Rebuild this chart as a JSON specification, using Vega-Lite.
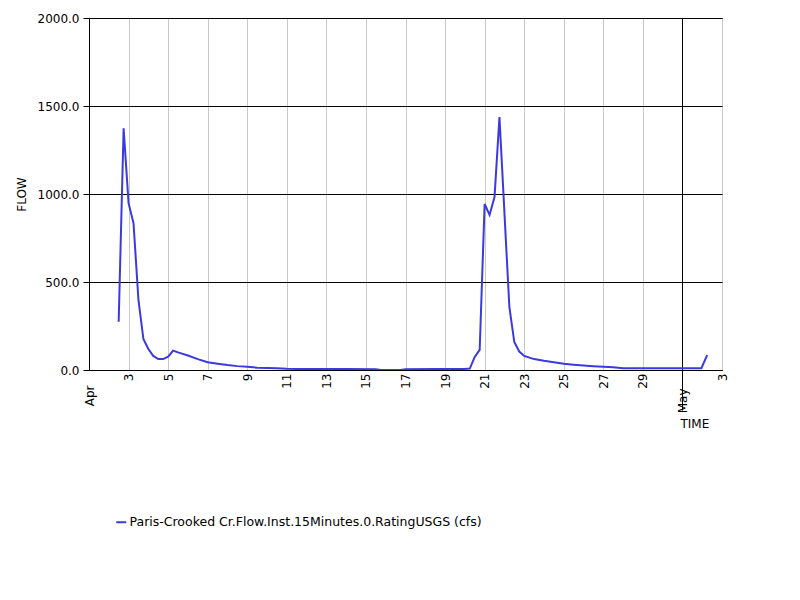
{
  "$schema": "https://vega.github.io/schema/vega-lite/v6.json",
  "width": 633,
  "height": 352,
  "autosize": "none",
  "padding": {"left": 89, "top": 18, "right": 78, "bottom": 230},
  "background": "white",
  "config": {"view": {"stroke": "black", "strokeWidth": 1}, "font": "DejaVu Sans"},
  "data": {"values": [
    {"time": "2024-04-02T12:00:00", "flow": 274},
    {"time": "2024-04-02T18:00:00", "flow": 1373},
    {"time": "2024-04-03T00:00:00", "flow": 948},
    {"time": "2024-04-03T06:00:00", "flow": 835},
    {"time": "2024-04-03T12:00:00", "flow": 398},
    {"time": "2024-04-03T18:00:00", "flow": 176},
    {"time": "2024-04-04T00:00:00", "flow": 119},
    {"time": "2024-04-04T06:00:00", "flow": 80},
    {"time": "2024-04-04T12:00:00", "flow": 62},
    {"time": "2024-04-04T18:00:00", "flow": 62},
    {"time": "2024-04-05T00:00:00", "flow": 76},
    {"time": "2024-04-05T06:00:00", "flow": 110},
    {"time": "2024-04-05T12:00:00", "flow": 100},
    {"time": "2024-04-06T00:00:00", "flow": 82},
    {"time": "2024-04-06T12:00:00", "flow": 62},
    {"time": "2024-04-07T00:00:00", "flow": 44},
    {"time": "2024-04-07T12:00:00", "flow": 36},
    {"time": "2024-04-08T00:00:00", "flow": 28},
    {"time": "2024-04-08T12:00:00", "flow": 22},
    {"time": "2024-04-09T00:00:00", "flow": 18},
    {"time": "2024-04-09T12:00:00", "flow": 13},
    {"time": "2024-04-10T00:00:00", "flow": 11},
    {"time": "2024-04-10T12:00:00", "flow": 10},
    {"time": "2024-04-11T00:00:00", "flow": 7},
    {"time": "2024-04-11T12:00:00", "flow": 6},
    {"time": "2024-04-12T12:00:00", "flow": 5},
    {"time": "2024-04-14T00:00:00", "flow": 5},
    {"time": "2024-04-15T12:00:00", "flow": 4},
    {"time": "2024-04-15T18:00:00", "flow": 0},
    {"time": "2024-04-16T18:00:00", "flow": 0},
    {"time": "2024-04-17T00:00:00", "flow": 4},
    {"time": "2024-04-18T12:00:00", "flow": 5},
    {"time": "2024-04-20T00:00:00", "flow": 6},
    {"time": "2024-04-20T06:00:00", "flow": 8},
    {"time": "2024-04-20T12:00:00", "flow": 74},
    {"time": "2024-04-20T18:00:00", "flow": 114},
    {"time": "2024-04-21T00:00:00", "flow": 943},
    {"time": "2024-04-21T06:00:00", "flow": 881},
    {"time": "2024-04-21T12:00:00", "flow": 983},
    {"time": "2024-04-21T18:00:00", "flow": 1437},
    {"time": "2024-04-22T06:00:00", "flow": 358},
    {"time": "2024-04-22T12:00:00", "flow": 159},
    {"time": "2024-04-22T18:00:00", "flow": 105},
    {"time": "2024-04-23T00:00:00", "flow": 80},
    {"time": "2024-04-23T12:00:00", "flow": 62},
    {"time": "2024-04-24T00:00:00", "flow": 52},
    {"time": "2024-04-24T12:00:00", "flow": 44},
    {"time": "2024-04-25T00:00:00", "flow": 36},
    {"time": "2024-04-25T12:00:00", "flow": 30},
    {"time": "2024-04-26T00:00:00", "flow": 25},
    {"time": "2024-04-26T12:00:00", "flow": 21},
    {"time": "2024-04-27T00:00:00", "flow": 18},
    {"time": "2024-04-27T12:00:00", "flow": 15},
    {"time": "2024-04-28T00:00:00", "flow": 10},
    {"time": "2024-04-30T00:00:00", "flow": 10},
    {"time": "2024-05-01T00:00:00", "flow": 10},
    {"time": "2024-05-01T23:00:00", "flow": 10},
    {"time": "2024-05-02T06:00:00", "flow": 85}
  ]},
  "mark": {"type": "line", "strokeWidth": 2, "interpolate": "linear", "clip": true},
  "encoding": {
    "x": {
      "field": "time",
      "type": "temporal",
      "scale": {"domain": [{"year": 2024, "month": "Apr", "date": 1}, {"year": 2024, "month": "May", "date": 3}]},
      "axis": {
        "title": "TIME",
        "titleFontSize": 12,
        "titleFontWeight": "normal",
        "titleColor": "black",
        "titleX": 591,
        "titleY": 53,
        "titleAlign": "left",
        "titleBaseline": "middle",
        "values": [
          {"year": 2024, "month": "Apr", "date": 1},
          {"year": 2024, "month": "Apr", "date": 3},
          {"year": 2024, "month": "Apr", "date": 5},
          {"year": 2024, "month": "Apr", "date": 7},
          {"year": 2024, "month": "Apr", "date": 9},
          {"year": 2024, "month": "Apr", "date": 11},
          {"year": 2024, "month": "Apr", "date": 13},
          {"year": 2024, "month": "Apr", "date": 15},
          {"year": 2024, "month": "Apr", "date": 17},
          {"year": 2024, "month": "Apr", "date": 19},
          {"year": 2024, "month": "Apr", "date": 21},
          {"year": 2024, "month": "Apr", "date": 23},
          {"year": 2024, "month": "Apr", "date": 25},
          {"year": 2024, "month": "Apr", "date": 27},
          {"year": 2024, "month": "Apr", "date": 29},
          {"year": 2024, "month": "May", "date": 1},
          {"year": 2024, "month": "May", "date": 3}
        ],
        "labelExpr": "date(datum.value) == 1 ? timeFormat(datum.value, '%b') : timeFormat(datum.value, '%-d')",
        "labelAngle": 270,
        "labelAlign": "right",
        "labelBaseline": "middle",
        "labelFontSize": 12,
        "labelColor": "black",
        "labelOverlap": false,
        "labelFlush": false,
        "labelBound": false,
        "labelPadding": {"condition": [
          {"test": "month(datum.value) == 4 && date(datum.value) == 1", "value": -22},
          {"test": "date(datum.value) == 1", "value": 15}
        ], "value": 3},
        "ticks": true,
        "tickSize": {"condition": {"test": "month(datum.value) == 4 && date(datum.value) == 1", "value": 40}, "value": 0},
        "tickColor": "black",
        "grid": true,
        "gridColor": {"condition": {"test": "month(datum.value) == 4 && date(datum.value) == 1", "value": "black"}, "value": "#c8c8c8"},
        "gridOpacity": 1,
        "domainColor": "black"
      }
    },
    "y": {
      "field": "flow",
      "type": "quantitative",
      "scale": {"domain": [0, 2000]},
      "axis": {
        "title": "FLOW",
        "values": [0, 500, 1000, 1500, 2000],
        "format": ".1f",
        "labelFontSize": 12,
        "labelColor": "black",
        "tickSize": 6,
        "tickColor": "black",
        "labelPadding": 4,
        "domainColor": "black",
        "grid": true,
        "gridColor": "black",
        "gridOpacity": 1,
        "titleFontSize": 12,
        "titleFontWeight": "normal",
        "titleColor": "black",
        "titlePadding": 9
      }
    },
    "color": {
      "datum": "Paris-Crooked Cr.Flow.Inst.15Minutes.0.RatingUSGS (cfs)",
      "type": "nominal",
      "scale": {"range": ["#3a3ae0"]},
      "legend": {
        "title": null,
        "orient": "none",
        "legendX": 26,
        "legendY": 498,
        "symbolType": "stroke",
        "symbolSize": 100,
        "symbolStrokeWidth": 2,
        "labelFontSize": 12.5,
        "labelColor": "black",
        "labelLimit": 0,
        "labelOffset": 2
      }
    }
  }
}
